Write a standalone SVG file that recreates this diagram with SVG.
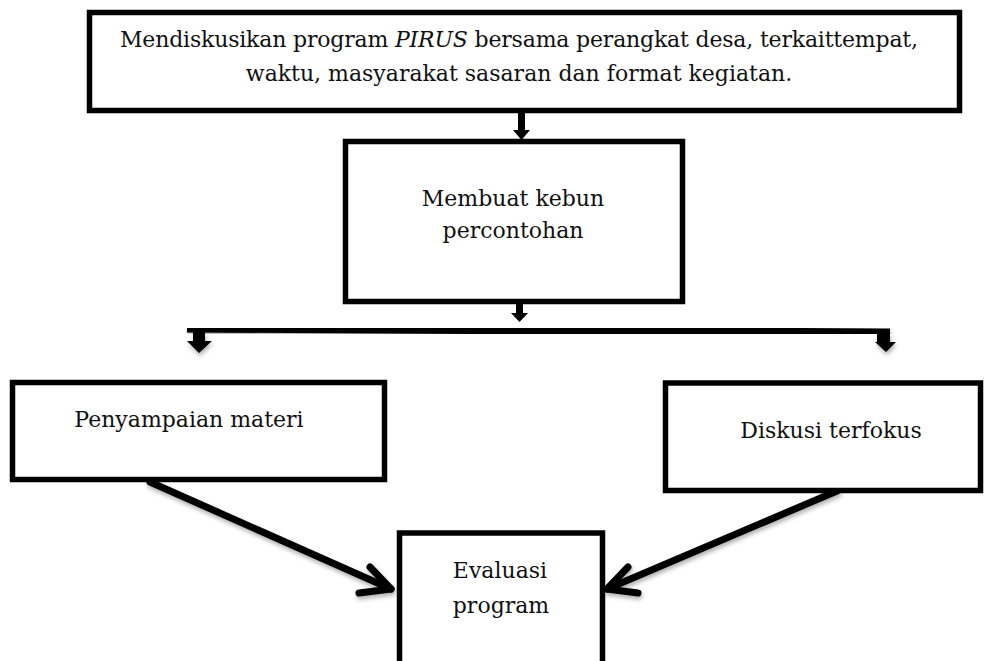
<svg xmlns="http://www.w3.org/2000/svg" width="1005" height="661" viewBox="0 0 1005 661">
<style>
.box{fill:#fff;stroke:#000;stroke-width:5.5}
.t{font-family:"DejaVu Serif","Liberation Serif",serif;font-size:22px;fill:#111;text-anchor:middle}
.ln{stroke:#000;stroke-width:7;fill:none;stroke-linecap:round;stroke-linejoin:round}
.bar{stroke:#000;stroke-width:8;fill:none}
</style>
<defs>
<filter id="sh" x="-10%" y="-10%" width="120%" height="140%">
<feDropShadow dx="1" dy="3" stdDeviation="2" flood-color="#000" flood-opacity="0.3"/>
</filter>
</defs>
<rect width="1005" height="661" fill="#fff"/>
<g id="connectors">
<polygon points="518,113 525,113 525,130 530,130 521.5,140 513,130 518,130"/>
<polygon points="516,302 523,302 523,313 528,313 519.5,322 511,313 516,313"/>
<path class="bar" d="M187,328.5 L890,332.5" filter="url(#sh)"/>
<polygon points="193,332 205,332 205,341 212,341 199,353 187,341 193,341" filter="url(#sh)"/>
<polygon points="877,333 890,333 890,342 896,342 886,352 875,342 877,342" filter="url(#sh)"/>
<g filter="url(#sh)">
<path class="ln" d="M150,482 L391,589"/>
<path class="ln" d="M370,567 L391,589 L359,593"/>
<path class="ln" d="M837,491 L607,589"/>
<path class="ln" d="M628,567 L607,589 L638,593"/>
</g>
</g>
<g id="n1">
<rect class="box" x="89.5" y="12.5" width="870" height="98"/>
<text class="t" x="519" y="47" textLength="798" lengthAdjust="spacing">Mendiskusikan program <tspan font-style="italic">PIRUS</tspan> bersama perangkat desa, terkaittempat,</text>
<text class="t" x="519" y="81">waktu, masyarakat sasaran dan format kegiatan.</text>
</g>
<g id="n2">
<rect class="box" x="345.5" y="141.5" width="337" height="160"/>
<text class="t" x="513" y="206">Membuat kebun</text>
<text class="t" x="513" y="238">percontohan</text>
</g>
<g id="n3">
<rect class="box" x="12.5" y="382.5" width="372" height="97"/>
<text class="t" x="189" y="427">Penyampaian materi</text>
</g>
<g id="n4">
<rect class="box" x="665.5" y="383" width="315" height="107.5"/>
<text class="t" x="831" y="438">Diskusi terfokus</text>
</g>
<g id="n5">
<rect class="box" x="399.5" y="533" width="203" height="140"/>
<text class="t" x="500" y="578">Evaluasi</text>
<text class="t" x="501" y="613">program</text>
</g>
</svg>
